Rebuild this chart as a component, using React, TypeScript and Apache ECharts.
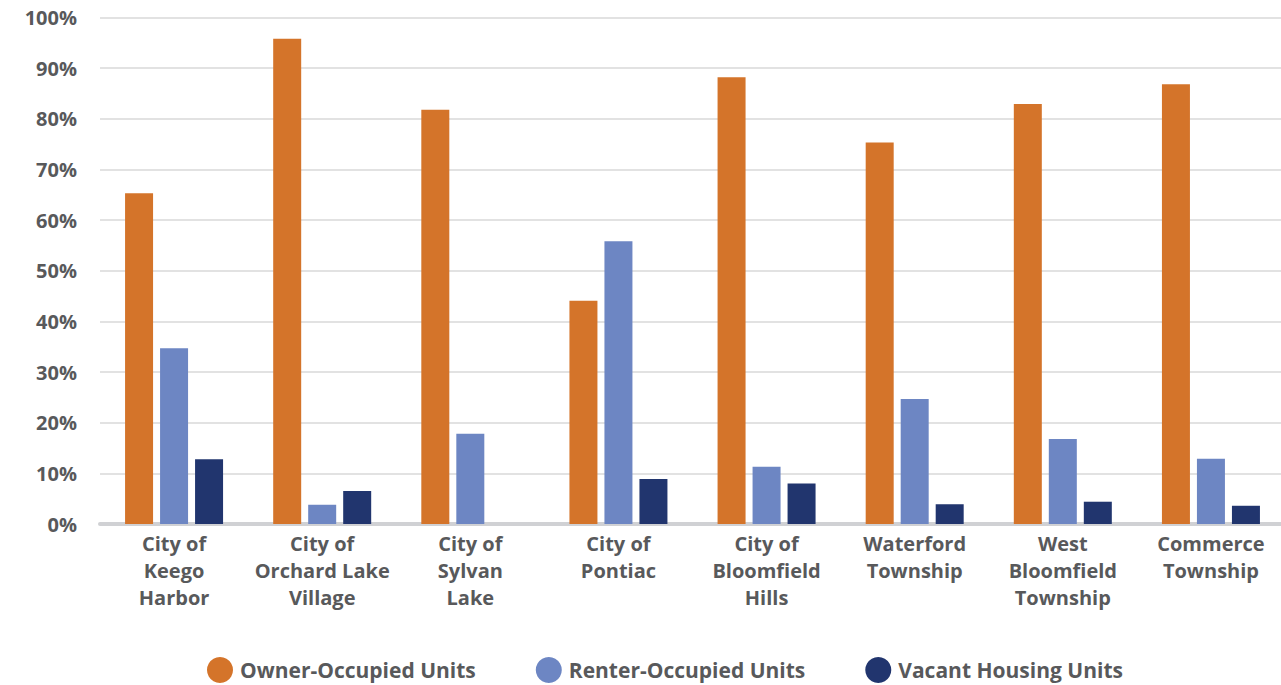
import React, { useEffect, useRef } from "react";
import * as echarts from "echarts";

const categories = [
  "City of\nKeego\nHarbor",
  "City of\nOrchard Lake\nVillage",
  "City of\nSylvan\nLake",
  "City of\nPontiac",
  "City of\nBloomfield\nHills",
  "Waterford\nTownship",
  "West\nBloomfield\nTownship",
  "Commerce\nTownship",
];
const ownerOccupied = [65.3, 95.8, 81.8, 44.1, 88.2, 75.3, 82.9, 86.8];
const renterOccupied = [34.7, 3.8, 17.8, 55.8, 11.3, 24.7, 16.8, 12.9];
const vacantHousing = [12.8, 6.5, 0, 8.9, 8.0, 3.9, 4.4, 3.6];
const seriesNames = ["Owner-Occupied Units", "Renter-Occupied Units", "Vacant Housing Units"];
const colors = ["#D4742A", "#6D86C3", "#21356E"];

const FONT = "'Open Sans', Lato, sans-serif";
const TEXT = "#58595B";

export default function App() {
  const ref = useRef<HTMLDivElement>(null);
  useEffect(() => {
    if (!ref.current) return;
    const chart = echarts.init(ref.current, null, { renderer: "svg" });
    const mk = (name: string, data: number[], color: string) => ({
      name,
      type: "bar",
      data,
      barWidth: 28,
      barGap: "25%",
      itemStyle: { color },
    });
    chart.setOption({
      animation: false,
      color: colors,
      textStyle: { fontFamily: FONT },
      grid: { left: 100, right: 5, top: 17.5, bottom: 161, containLabel: false },
      legend: {
        top: 652,
        left: 202,
        icon: "circle",
        itemWidth: 26,
        itemHeight: 26,
        itemGap: 60,
        textStyle: { fontFamily: FONT, fontSize: 21, fontWeight: "bold", color: TEXT, padding: [0, 0, 0, 2] },
        data: seriesNames,
      },
      xAxis: {
        type: "category",
        data: categories,
        axisLine: { show: true, lineStyle: { color: "#D0D1D4", width: 4 } },
        axisTick: { show: false },
        axisLabel: {
          interval: 0,
          margin: 6,
          fontFamily: FONT,
          fontSize: 20,
          fontWeight: "bold",
          color: TEXT,
          lineHeight: 27,
        },
      },
      yAxis: {
        type: "value",
        min: 0,
        max: 100,
        interval: 10,
        axisLine: { show: false },
        axisTick: { show: false },
        splitLine: { lineStyle: { color: "#D9D9D9", width: 1.5 } },
        axisLabel: {
          formatter: "{value}%",
          margin: 23,
          fontFamily: FONT,
          fontSize: 20,
          fontWeight: "bold",
          color: TEXT,
          verticalAlign: "top",
          padding: [-10, 0, 0, 0],
        },
      },
      series: [
        mk(seriesNames[0], ownerOccupied, colors[0]),
        mk(seriesNames[1], renterOccupied, colors[1]),
        mk(seriesNames[2], vacantHousing, colors[2]),
      ],
    });
    return () => chart.dispose();
  }, []);
  return (
    <div style={{ position: "fixed", left: 0, top: 0, width: 1281, height: 685, overflow: "hidden", background: "#fff" }}>
      <div ref={ref} style={{ width: 1290, height: 685 }} />
    </div>
  );
}
